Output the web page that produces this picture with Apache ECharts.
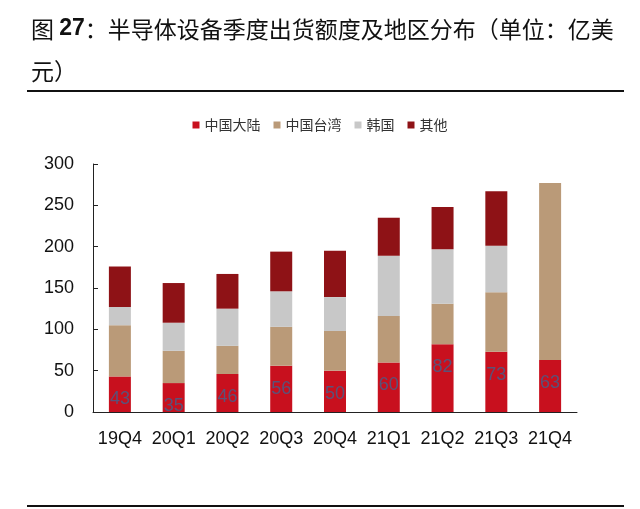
<!DOCTYPE html>
<html>
<head>
    <meta charset="UTF-8">
    <title>半导体设备季度出货额度及地区分布</title>
    <script src="https://cdn.jsdelivr.net/npm/echarts@6/dist/echarts.min.js" type="text/javascript"></script>
    <style>
        html, body { margin: 0; padding: 0; background: #fff; }
    </style>
</head>
<body>
<div id="main" style="width:640px;height:509px"></div>
<script type="text/javascript">
    // 季度
    var quarters = ['19Q4', '20Q1', '20Q2', '20Q3', '20Q4', '21Q1', '21Q2', '21Q3', '21Q4'];
    // 各地区出货额（亿美元），21Q4只有大陆和台湾
    var mainland = [43, 35, 46, 56, 50, 60, 82, 73, 63];
    var taiwan   = [62, 39, 34, 47, 48, 56, 49, 72, 214];
    var korea    = [22, 34, 45, 43, 41, 73, 66, 56, 0];
    var others   = [49, 48, 42, 48, 56, 46, 51, 66, 0];
    var yTicks   = [0, 50, 100, 150, 200, 250, 300];

    var axisFont = 'Liberation Sans, Arial, sans-serif';
    var cjkFont = 'Noto Sans CJK SC, sans-serif';

    var myChart = echarts.init(document.getElementById('main'));

    var option = {
        backgroundColor: '#fff',
        animation: false,
        title: {
            text: '{a|图 }{b|27}{a|：半导体设备季度出货额度及地区分布（单位：亿美}\n{a|元）}',
            left: 26,
            top: 3,
            textStyle: {
                fontWeight: 'normal',
                rich: {
                    a: { fontSize: 23, fontFamily: cjkFont, fontWeight: 'normal', color: '#111', lineHeight: 42 },
                    b: { fontSize: 23, fontFamily: axisFont, fontWeight: 'bold', color: '#111', lineHeight: 42 }
                }
            }
        },
        legend: {
            top: 113,
            left: 'center',
            itemWidth: 7,
            itemHeight: 7,
            itemGap: 13,
            icon: 'rect',
            textStyle: { fontSize: 14, fontFamily: cjkFont, color: '#333' },
            data: ['中国大陆', '中国台湾', '韩国', '其他']
        },
        grid: {
            left: 93,
            right: 63,
            top: 164,
            bottom: 97,
            containLabel: false
        },
        xAxis: {
            type: 'category',
            data: quarters,
            axisLine: { lineStyle: { color: '#222', width: 1 } },
            axisTick: { inside: true, length: 5, lineStyle: { color: '#222' } },
            axisLabel: { interval: 0, fontSize: 18, fontFamily: axisFont, color: '#111', margin: 18 }
        },
        yAxis: {
            type: 'value',
            min: yTicks[0],
            max: yTicks[yTicks.length - 1],
            interval: yTicks[1] - yTicks[0],
            axisLine: { show: true, lineStyle: { color: '#222', width: 1 } },
            axisTick: { show: true, inside: true, length: 5, lineStyle: { color: '#222' } },
            splitLine: { show: false },
            axisLabel: { fontSize: 18, fontFamily: axisFont, color: '#111', margin: 19 }
        },
        series: [
            {
                name: '中国大陆', type: 'bar', stack: 'all', barWidth: 22,
                data: mainland,
                itemStyle: { color: '#C8101E' },
                label: {
                    show: true, position: 'insideTop', distance: 14,
                    fontSize: 18, fontFamily: axisFont, color: '#5b5278'
                }
            },
            {
                name: '中国台湾', type: 'bar', stack: 'all', barWidth: 22,
                data: taiwan,
                itemStyle: { color: '#BA9A78' }
            },
            {
                name: '韩国', type: 'bar', stack: 'all', barWidth: 22,
                data: korea,
                itemStyle: { color: '#C8C8C8' }
            },
            {
                name: '其他', type: 'bar', stack: 'all', barWidth: 22,
                data: others,
                itemStyle: { color: '#8E1216' }
            }
        ],
        graphic: [
            { type: 'line', shape: { x1: 27, y1: 91, x2: 624, y2: 91 }, style: { stroke: '#111', lineWidth: 2 } },
            { type: 'line', shape: { x1: 27, y1: 506, x2: 624, y2: 506 }, style: { stroke: '#111', lineWidth: 2 } }
        ]
    };

    myChart.setOption(option);
</script>
</body>
</html>
